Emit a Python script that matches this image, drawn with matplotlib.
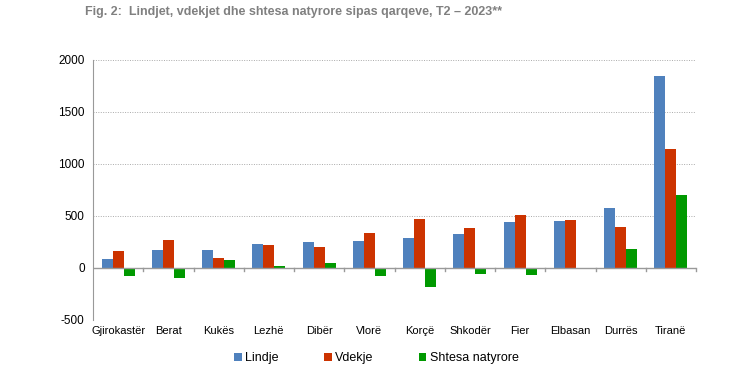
import matplotlib
matplotlib.use("Agg")
import matplotlib.pyplot as plt
import numpy as np

categories = ["Gjirokastër", "Berat", "Kukës", "Lezhë", "Dibër", "Vlorë", "Korçë",
              "Shkodër", "Fier", "Elbasan", "Durrës", "Tiranë"]
lindje = [85, 170, 170, 235, 250, 255, 290, 325, 440, 455, 575, 1845]
vdekje = [165, 265, 95, 220, 200, 335, 470, 380, 505, 460, 395, 1145]
shtesa = [-80, -95, 75, 15, 50, -80, -180, -55, -65, -5, 180, 700]
series_names = ["Lindje", "Vdekje", "Shtesa natyrore"]
colors = ["#4F81BD", "#CC3300", "#009900"]

plt.rcParams['font.family'] = ['Liberation Sans', 'DejaVu Sans']

fig = plt.figure(figsize=(7.53, 3.85), dpi=100)
ax = fig.add_axes([93/753, 1-320/385, (696-93)/753, (320-60)/385])

x = np.arange(len(categories))
w = 0.22
for i, (vals, name, c) in enumerate(zip([lindje, vdekje, shtesa], series_names, colors)):
    ax.bar(x + (i-1)*w, vals, width=w, color=c, label=name, zorder=3)

ax.set_xlim(-0.5, len(categories)-0.5)
ax.set_ylim(-500, 2000)
ax.set_yticks([-500, 0, 500, 1000, 1500, 2000])
ax.set_yticklabels(["-500", "0", "500", "1000", "1500", "2000"], fontsize=8.5)
ax.yaxis.grid(True, linestyle=(0, (1, 1.5)), color="#aaaaaa", linewidth=0.7, zorder=0)
ax.tick_params(axis='y', length=0, pad=6)

for s in ["top", "right", "bottom"]:
    ax.spines[s].set_visible(False)
ax.spines["left"].set_color("#999999")
ax.axhline(0, color="#999999", linewidth=1.0, zorder=4)

ax.set_xticks(x)
ax.set_xticklabels(categories, fontsize=8)
ax.tick_params(axis='x', length=0, pad=4)
for xs in np.arange(0.5, len(categories), 1):
    ax.plot([xs, xs], [0, -25], color="#999999", linewidth=1.0, zorder=4, clip_on=False)

leg = fig.legend(loc="center", bbox_to_anchor=(0.5, 1-358/385), ncol=3, frameon=False,
                 fontsize=9, handlelength=0.6, handleheight=0.6, handletextpad=0.3,
                 columnspacing=3.6)

fig.text(85/753, 1-12/385, "Fig. 2:  Lindjet, vdekjet dhe shtesa natyrore sipas qarqeve, T2 – 2023**",
         fontsize=9, fontweight='bold', color="#808080", ha='left', va='center')

fig.savefig("out.png", dpi=100)
